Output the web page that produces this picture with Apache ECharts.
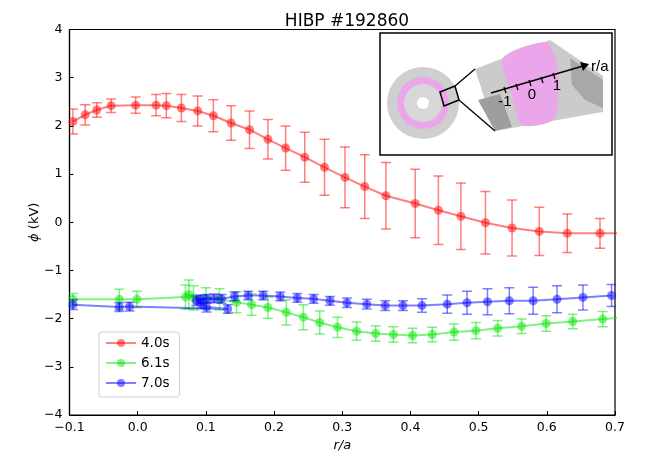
<!DOCTYPE html>
<html>
<head>
<meta charset="utf-8">
<script src="https://cdn.jsdelivr.net/npm/echarts@6/dist/echarts.min.js"></script>
<style>
    html, body {margin: 0; padding: 0; background: #fff;}
    #chart {width: 650px; height: 461px;}
</style>
</head>
<body>
<div id="chart"></div>
<script>
// 4.0s
var redX = [-0.095, -0.077, -0.060, -0.039, -0.003, 0.027, 0.042, 0.064, 0.088, 0.111, 0.137, 0.164, 0.191, 0.217, 0.245, 0.274, 0.304, 0.333, 0.364, 0.407, 0.441, 0.474, 0.510, 0.549, 0.589, 0.630, 0.678, 0.715];
var redY = [2.09, 2.23, 2.33, 2.42, 2.43, 2.43, 2.42, 2.37, 2.31, 2.21, 2.06, 1.92, 1.72, 1.54, 1.35, 1.14, 0.93, 0.74, 0.55, 0.39, 0.25, 0.125, -0.01, -0.12, -0.19, -0.23, -0.23, -0.23];
var redErr = [0.26, 0.21, 0.15, 0.14, 0.17, 0.22, 0.25, 0.28, 0.31, 0.33, 0.36, 0.39, 0.41, 0.46, 0.52, 0.58, 0.63, 0.66, 0.69, 0.71, 0.71, 0.69, 0.65, 0.58, 0.50, 0.40, 0.31, 0.25];

// 6.1s
var greenX = [-0.095, -0.027, -0.001, 0.070, 0.075, 0.082, 0.100, 0.120, 0.145, 0.167, 0.191, 0.218, 0.243, 0.267, 0.293, 0.321, 0.349, 0.375, 0.403, 0.432, 0.464, 0.496, 0.528, 0.563, 0.599, 0.638, 0.682, 0.720];
var greenY = [-1.60, -1.60, -1.60, -1.55, -1.50, -1.57, -1.58, -1.60, -1.66, -1.71, -1.77, -1.87, -1.97, -2.08, -2.18, -2.26, -2.31, -2.33, -2.35, -2.33, -2.28, -2.25, -2.20, -2.16, -2.10, -2.06, -2.01, -1.97];
var greenErr = [0.12, 0.21, 0.17, 0.25, 0.30, 0.25, 0.22, 0.22, 0.22, 0.22, 0.22, 0.26, 0.26, 0.24, 0.21, 0.19, 0.16, 0.16, 0.15, 0.15, 0.17, 0.17, 0.16, 0.15, 0.16, 0.15, 0.16, 0.16];

// 7.0s
var blueX = [-0.095, -0.027, -0.012, 0.132, 0.101, 0.093, 0.086, 0.092, 0.101, 0.112, 0.123, 0.142, 0.162, 0.184, 0.209, 0.234, 0.258, 0.282, 0.307, 0.336, 0.363, 0.389, 0.417, 0.454, 0.483, 0.513, 0.545, 0.580, 0.615, 0.653, 0.695];
var blueY = [-1.71, -1.76, -1.75, -1.80, -1.76, -1.69, -1.63, -1.60, -1.59, -1.58, -1.59, -1.54, -1.52, -1.52, -1.54, -1.57, -1.59, -1.63, -1.67, -1.70, -1.73, -1.73, -1.73, -1.70, -1.67, -1.65, -1.63, -1.63, -1.60, -1.56, -1.52];
var blueErr = [0.10, 0.09, 0.09, 0.09, 0.10, 0.10, 0.10, 0.09, 0.09, 0.09, 0.09, 0.09, 0.09, 0.09, 0.09, 0.09, 0.09, 0.09, 0.10, 0.10, 0.10, 0.10, 0.14, 0.19, 0.24, 0.27, 0.27, 0.28, 0.28, 0.26, 0.23];

var names = ['4.0s', '6.1s', '7.0s'];
var colors = ['rgba(255,0,0,0.5)', 'rgba(0,230,0,0.5)', 'rgba(0,0,255,0.5)'];

var xTicks = {min: -0.1, max: 0.7, interval: 0.1};
var yTicks = {min: -4, max: 4, interval: 1};

var FONT = 'DejaVu Sans';

function minus(v, digits) {
    var s = digits ? Math.abs(v).toFixed(digits) : String(Math.abs(v));
    return (v < -1e-9 ? '\u2212' : '') + s;
}

function points(xs, ys) {
    var out = [];
    for (var i = 0; i < xs.length; i++) out.push([xs[i], ys[i]]);
    return out;
}

function bars(xs, ys, es) {
    var out = [];
    for (var i = 0; i < xs.length; i++) out.push([xs[i], ys[i] - es[i], ys[i] + es[i]]);
    return out;
}

function renderErr(params, api) {
    var x = api.value(0);
    var top = api.coord([x, api.value(2)]), bot = api.coord([x, api.value(1)]);
    var c = api.visual('color'), cap = 5, st = {stroke: c, lineWidth: 1.5};
    return {
        type: 'group',
        children: [
            {type: 'line', shape: {x1: top[0], y1: top[1], x2: bot[0], y2: bot[1]}, style: st},
            {type: 'line', shape: {x1: top[0] - cap, y1: top[1], x2: top[0] + cap, y2: top[1]}, style: st},
            {type: 'line', shape: {x1: bot[0] - cap, y1: bot[1], x2: bot[0] + cap, y2: bot[1]}, style: st}
        ]
    };
}

var sets = [
    [redX, redY, redErr],
    [greenX, greenY, greenErr],
    [blueX, blueY, blueErr]
];

var series = [];
for (var k = 0; k < sets.length; k++) {
    series.push({
        name: names[k] + '-err',
        type: 'custom',
        renderItem: renderErr,
        clip: true,
        itemStyle: {color: colors[k]},
        encode: {x: 0, y: [1, 2]},
        data: bars(sets[k][0], sets[k][1], sets[k][2]),
        z: 2 + k * 2
    });
    series.push({
        name: names[k],
        type: 'line',
        symbol: 'circle',
        symbolSize: 9,
        clip: true,
        itemStyle: {color: colors[k]},
        lineStyle: {color: colors[k], width: 2},
        emphasis: {disabled: true},
        data: points(sets[k][0], sets[k][1]),
        z: 3 + k * 2
    });
}

// 小插图 (装置示意)
var inset = [
    {type: 'rect', shape: {x: 380, y: 33, width: 232, height: 122}, style: {fill: '#fff', stroke: '#000', lineWidth: 1.5}},
    {type: 'circle', shape: {cx: 423, cy: 103, r: 36}, style: {fill: '#cfcfcf'}},
    {type: 'circle', shape: {cx: 423, cy: 103, r: 26}, style: {fill: '#eba6eb'}},
    {type: 'circle', shape: {cx: 423, cy: 103, r: 19}, style: {fill: '#d8d8d8'}},
    {type: 'circle', shape: {cx: 423, cy: 103, r: 6}, style: {fill: '#fff'}},
    {type: 'polygon', shape: {points: [[475, 69], [550, 40], [603, 76], [603, 112], [495, 131]]}, style: {fill: '#cbcbcb'}},
    {type: 'polygon', shape: {points: [[478, 100], [500, 94], [512, 127], [495, 131]]}, style: {fill: '#9e9e9e'}},
    {type: 'polygon', shape: {points: [[570, 58], [603, 80], [603, 108], [585, 100], [572, 85]]}, style: {fill: '#a8a8a8'}},
    {type: 'polygon', shape: {points: [[503, 58], [546, 42], [556, 60], [559, 90], [553, 120], [522, 125], [512, 95]], smooth: 0.25}, style: {fill: '#eba6eb'}},
    {type: 'polygon', shape: {points: [[440, 92], [455, 86], [459, 100], [444, 106]]}, style: {fill: 'none', stroke: '#000', lineWidth: 1.5}},
    {type: 'line', shape: {x1: 455, y1: 86, x2: 475, y2: 69}, style: {stroke: '#000', lineWidth: 1.3}},
    {type: 'line', shape: {x1: 459, y1: 100, x2: 495, y2: 131}, style: {stroke: '#000', lineWidth: 1.3}},
    {type: 'line', shape: {x1: 491, y1: 93, x2: 583, y2: 66}, style: {stroke: '#000', lineWidth: 1.5}},
    {type: 'polygon', shape: {points: [[589, 64], [580, 62], [583, 71]]}, style: {fill: '#000'}},
    {type: 'line', shape: {x1: 504, y1: 87, x2: 506, y2: 93}, style: {stroke: '#000', lineWidth: 1.3}},
    {type: 'line', shape: {x1: 516, y1: 84, x2: 518, y2: 90}, style: {stroke: '#000', lineWidth: 1.3}},
    {type: 'line', shape: {x1: 529, y1: 80, x2: 531, y2: 86}, style: {stroke: '#000', lineWidth: 1.3}},
    {type: 'line', shape: {x1: 541, y1: 77, x2: 543, y2: 83}, style: {stroke: '#000', lineWidth: 1.3}},
    {type: 'line', shape: {x1: 553, y1: 73, x2: 555, y2: 79}, style: {stroke: '#000', lineWidth: 1.3}},
    {type: 'text', x: 505, y: 102, style: {text: '-1', font: '15px Liberation Sans', fill: '#000', align: 'center', verticalAlign: 'middle'}},
    {type: 'text', x: 532, y: 95, style: {text: '0', font: '15px Liberation Sans', fill: '#000', align: 'center', verticalAlign: 'middle'}},
    {type: 'text', x: 557, y: 86, style: {text: '1', font: '15px Liberation Sans', fill: '#000', align: 'center', verticalAlign: 'middle'}},
    {type: 'text', x: 591, y: 67, style: {text: 'r/a', font: '15px Liberation Sans', fill: '#000', align: 'left', verticalAlign: 'middle'}}
];
for (var g = 0; g < inset.length; g++) { inset[g].z = 100; inset[g].silent = true; }

var option = {
    animation: false,
    backgroundColor: '#fff',
    title: {
        text: 'HIBP #192860',
        left: 342, top: 8, textAlign: 'center',
        textStyle: {fontFamily: FONT, fontSize: 17, fontWeight: 'normal', color: '#000'}
    },
    grid: {left: 69.5, right: 35, top: 29.5, bottom: 46, show: true, borderColor: '#000', borderWidth: 1.2},
    legend: {
        data: names,
        orient: 'vertical',
        left: 99, top: 332,
        itemWidth: 30, itemHeight: 10, itemGap: 6,
        padding: [4, 10, 7, 6],
        borderColor: '#d0d0d0', borderWidth: 1, borderRadius: 3,
        backgroundColor: 'rgba(255,255,255,0.8)',
        textStyle: {fontFamily: FONT, fontSize: 13.5, color: '#000'}
    },
    xAxis: {
        type: 'value',
        min: xTicks.min, max: xTicks.max, interval: xTicks.interval,
        name: 'r/a', nameLocation: 'middle', nameGap: 23,
        nameTextStyle: {fontFamily: FONT, fontSize: 13, fontStyle: 'italic', color: '#000'},
        axisLine: {onZero: false, lineStyle: {color: '#000', width: 1.2}},
        axisTick: {inside: true, length: 4, lineStyle: {color: '#000'}},
        axisLabel: {fontFamily: FONT, fontSize: 12.5, color: '#000', margin: 6, formatter: function (v) { return minus(v, 1); }},
        splitLine: {show: false}
    },
    yAxis: {
        type: 'value',
        min: yTicks.min, max: yTicks.max, interval: yTicks.interval,
        name: '{i|\u03d5} (kV)', nameLocation: 'middle', nameGap: 28, nameRotate: 90,
        nameMoveOverlap: false,
        nameTextStyle: {fontFamily: FONT, fontSize: 13, color: '#000', rich: {i: {fontFamily: FONT, fontSize: 13, fontStyle: 'italic', color: '#000'}}},
        axisLine: {onZero: false, lineStyle: {color: '#000', width: 1.2}},
        axisTick: {inside: true, length: 4, lineStyle: {color: '#000'}},
        axisLabel: {fontFamily: FONT, fontSize: 12.5, color: '#000', margin: 7, formatter: function (v) { return minus(v); }},
        splitLine: {show: false}
    },
    graphic: inset,
    series: series
};

var chart = echarts.init(document.getElementById('chart'));
chart.setOption(option);
</script>
</body>
</html>
